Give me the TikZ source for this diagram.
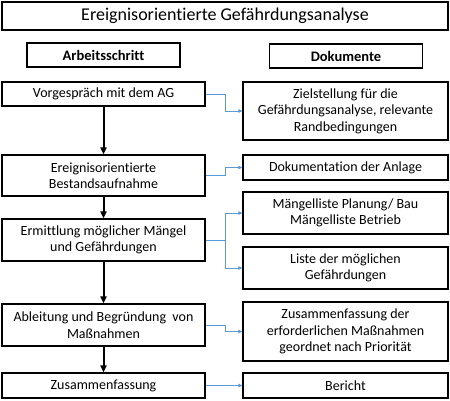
\documentclass[tikz,border=0pt]{standalone}
\usepackage{fontspec}
\setmainfont{Carlito}[Ligatures=NoCommon]
\usepackage{tikz}
\usetikzlibrary{arrows.meta}
\definecolor{docblue}{HTML}{5B9BD5}
\tikzstyle{box} = [draw, line width=1.2pt, inner sep=0pt, align=center, font=\fontsize{14}{16.5}\selectfont]
\tikzstyle{stepbox} = [box, minimum width=203pt]
\tikzstyle{docbox} = [box, minimum width=205pt]
\tikzstyle{headbox} = [box, minimum width=153pt, minimum height=24pt, font=\fontsize{14.5}{17}\selectfont\bfseries]
\tikzstyle{flow} = [-{Triangle[length=7pt,width=6pt]}, line width=2pt]
\tikzstyle{doclink} = [-{Triangle[length=4pt,width=3.5pt]}, docblue, line width=0.7pt]

\begin{document}
\begin{tikzpicture}[x=1pt,y=-1pt]
  \useasboundingbox (0,0) rectangle (450,400);
  \node (title) at (225,16) [box, minimum width=446pt, minimum height=28pt, font=\fontsize{18}{21}\selectfont] {Ereignisorientierte Gefährdungsanalyse};
  \node (arbeit) at (103.5,55) [headbox] {Arbeitsschritt};
  \node (doku) at (346,56) [headbox] {Dokumente};

  \node (s1) at (103.5,94) [stepbox, minimum height=24pt] {Vorgespräch mit dem AG};
  \node (s2) at (103.5,175.5) [stepbox, minimum height=41pt] {Ereignisorientierte\\Bestandsaufnahme};
  \node (s3) at (103.5,240) [stepbox, minimum height=42pt] {Ermittlung möglicher Mängel\\und Gefährdungen};
  \node (s4) at (103.5,325) [stepbox, minimum height=42pt] {Ableitung und Begründung\ \ von\\Maßnahmen};
  \node (s5) at (103.5,385.5) [stepbox, minimum height=25pt] {Zusammenfassung};

  \node (d1) at (345.5,111) [docbox, minimum height=58pt] {Zielstellung für die\\Gefährdungsanalyse,\ relevante\\Randbedingungen};
  \node (d2) at (345.5,167.5) [docbox, minimum height=25pt] {Dokumentation der Anlage};
  \node (d3) at (345.5,213) [docbox, minimum height=42pt] {Mängelliste Planung/ Bau\\Mängelliste Betrieb};
  \node (d4) at (345.5,268) [docbox, minimum height=42pt] {Liste der möglichen\\Gefährdungen};
  \node (d5) at (345.5,331.5) [docbox, minimum height=59pt] {Zusammenfassung der\\erforderlichen Maßnahmen\\geordnet nach Priorität};
  \node (d6) at (345.5,385.5) [docbox, minimum height=25pt] {Bericht};

  \draw [flow] (s1) -- (s2);
  \draw [flow] (s2) -- (s3);
  \draw [flow] (s3) -- (s4);
  \draw [flow] (s4) -- (s5);

  \draw [doclink] (s1.east) -- ++(20,0) |- (d1.west);
  \draw [doclink] (s2.east) -- ++(20,0) |- (d2.west);
  \draw [doclink] (s3.east) -- ++(20,0) |- (d3.west);
  \draw [doclink] (s3.east) -- ++(20,0) |- (d4.west);
  \draw [doclink] (s4.east) -- ++(20,0) |- (d5.west);
  \draw [doclink] (s5.east) -- (d6.west);
\end{tikzpicture}
\end{document}
